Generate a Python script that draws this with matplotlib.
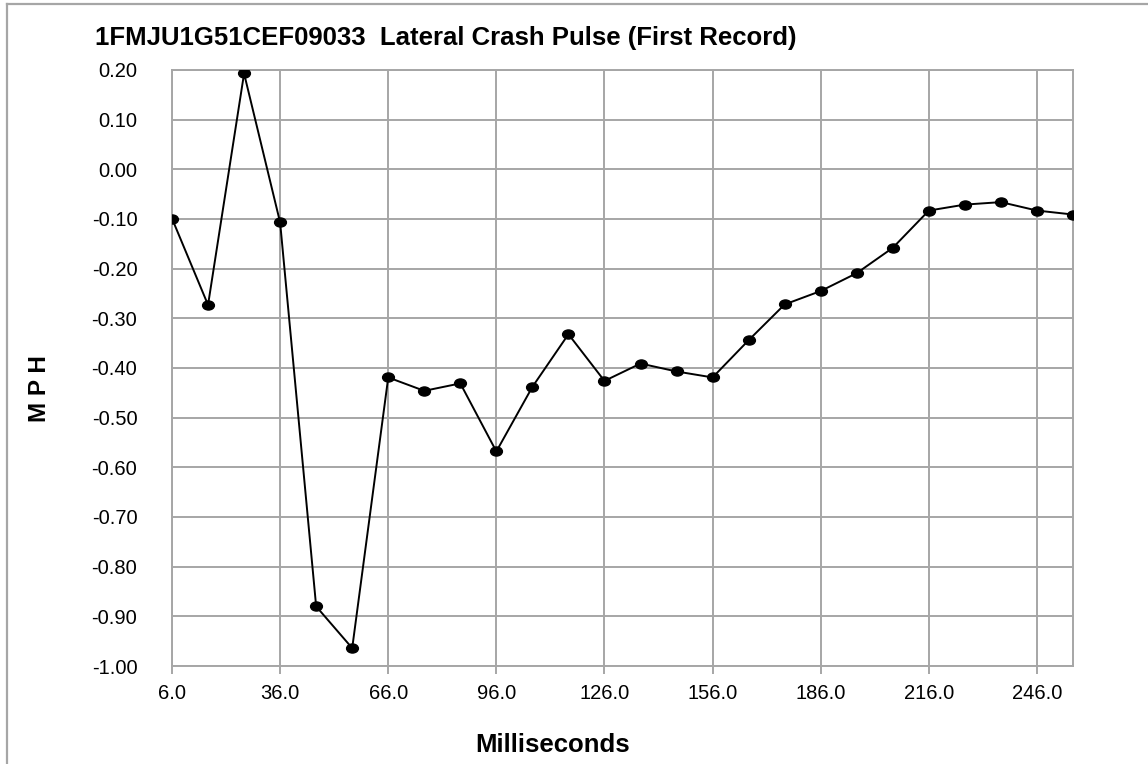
import numpy as np
import matplotlib
matplotlib.use("Agg")
import matplotlib.pyplot as plt
from matplotlib.lines import Line2D
from matplotlib.path import Path
from matplotlib.transforms import Affine2D

# data
ms = [6, 16, 26, 36, 46, 56, 66, 76, 86, 96, 106, 116, 126,
      136, 146, 156, 166, 176, 186, 196, 206, 216, 226, 236, 246, 256]
mph = [-0.099, -0.273, 0.193, -0.107, -0.880, -0.964, -0.419, -0.446, -0.431,
       -0.568, -0.438, -0.332, -0.426, -0.391, -0.407, -0.419, -0.344, -0.272,
       -0.245, -0.209, -0.158, -0.083, -0.071, -0.066, -0.083, -0.091]
xticks = [6, 36, 66, 96, 126, 156, 186, 216, 246]
yticks = [0.20, 0.10, 0.00, -0.10, -0.20, -0.30, -0.40, -0.50,
          -0.60, -0.70, -0.80, -0.90, -1.00]
title = "1FMJU1G51CEF09033  Lateral Crash Pulse (First Record)"

plt.rcParams['font.family'] = ['Liberation Sans', 'DejaVu Sans']
grey = '#a6a6a6'

# slightly flattened dot, like the original markers
dot = Path.unit_circle().transformed(Affine2D().scale(1.3, 1.0))

fig = plt.figure(figsize=(11.48, 7.64), dpi=100)
ax = fig.add_axes([172/1148, 1-666/764, (1073-172)/1148, (666-70)/764])

ax.plot(ms, mph, color='black', lw=1.4, marker=dot, ms=8.5,
        markerfacecolor='black', markeredgecolor='black', zorder=3)

ax.set_xlim(6, 256)
ax.set_ylim(-1.0, 0.2)
ax.set_xticks(xticks)
ax.set_xticklabels([f"{t:.1f}" for t in xticks])
ax.set_yticks(yticks)
ax.set_yticklabels([f"{t:.2f}" for t in yticks])
ax.grid(True, color=grey, lw=1.4)
ax.set_axisbelow(True)
for s in ax.spines.values():
    s.set_color(grey)
    s.set_linewidth(1.4)
ax.tick_params(axis='x', length=6, width=1.4, color=grey, pad=7, labelsize=14.5)
ax.tick_params(axis='y', length=0, pad=25, labelsize=14.5)

fig.text(95/1148, 1-38/764, title, fontsize=18.5, fontweight='bold',
         ha='left', va='center')
fig.text(553/1148, 1-745/764, "Milliseconds", fontsize=18.5, fontweight='bold',
         ha='center', va='center')
fig.text(40/1148, 1-389/764, "M P H", fontsize=17.5, fontweight='bold',
         rotation=90, ha='center', va='center')

# outer chart-area frame (only left and top edges visible)
fig.add_artist(Line2D([7/1148, 7/1148], [0, 1-4/764], color=grey, lw=1.6))
fig.add_artist(Line2D([7/1148, 1], [1-4/764, 1-4/764], color=grey, lw=1.6))

fig.savefig("out.png", dpi=100)
